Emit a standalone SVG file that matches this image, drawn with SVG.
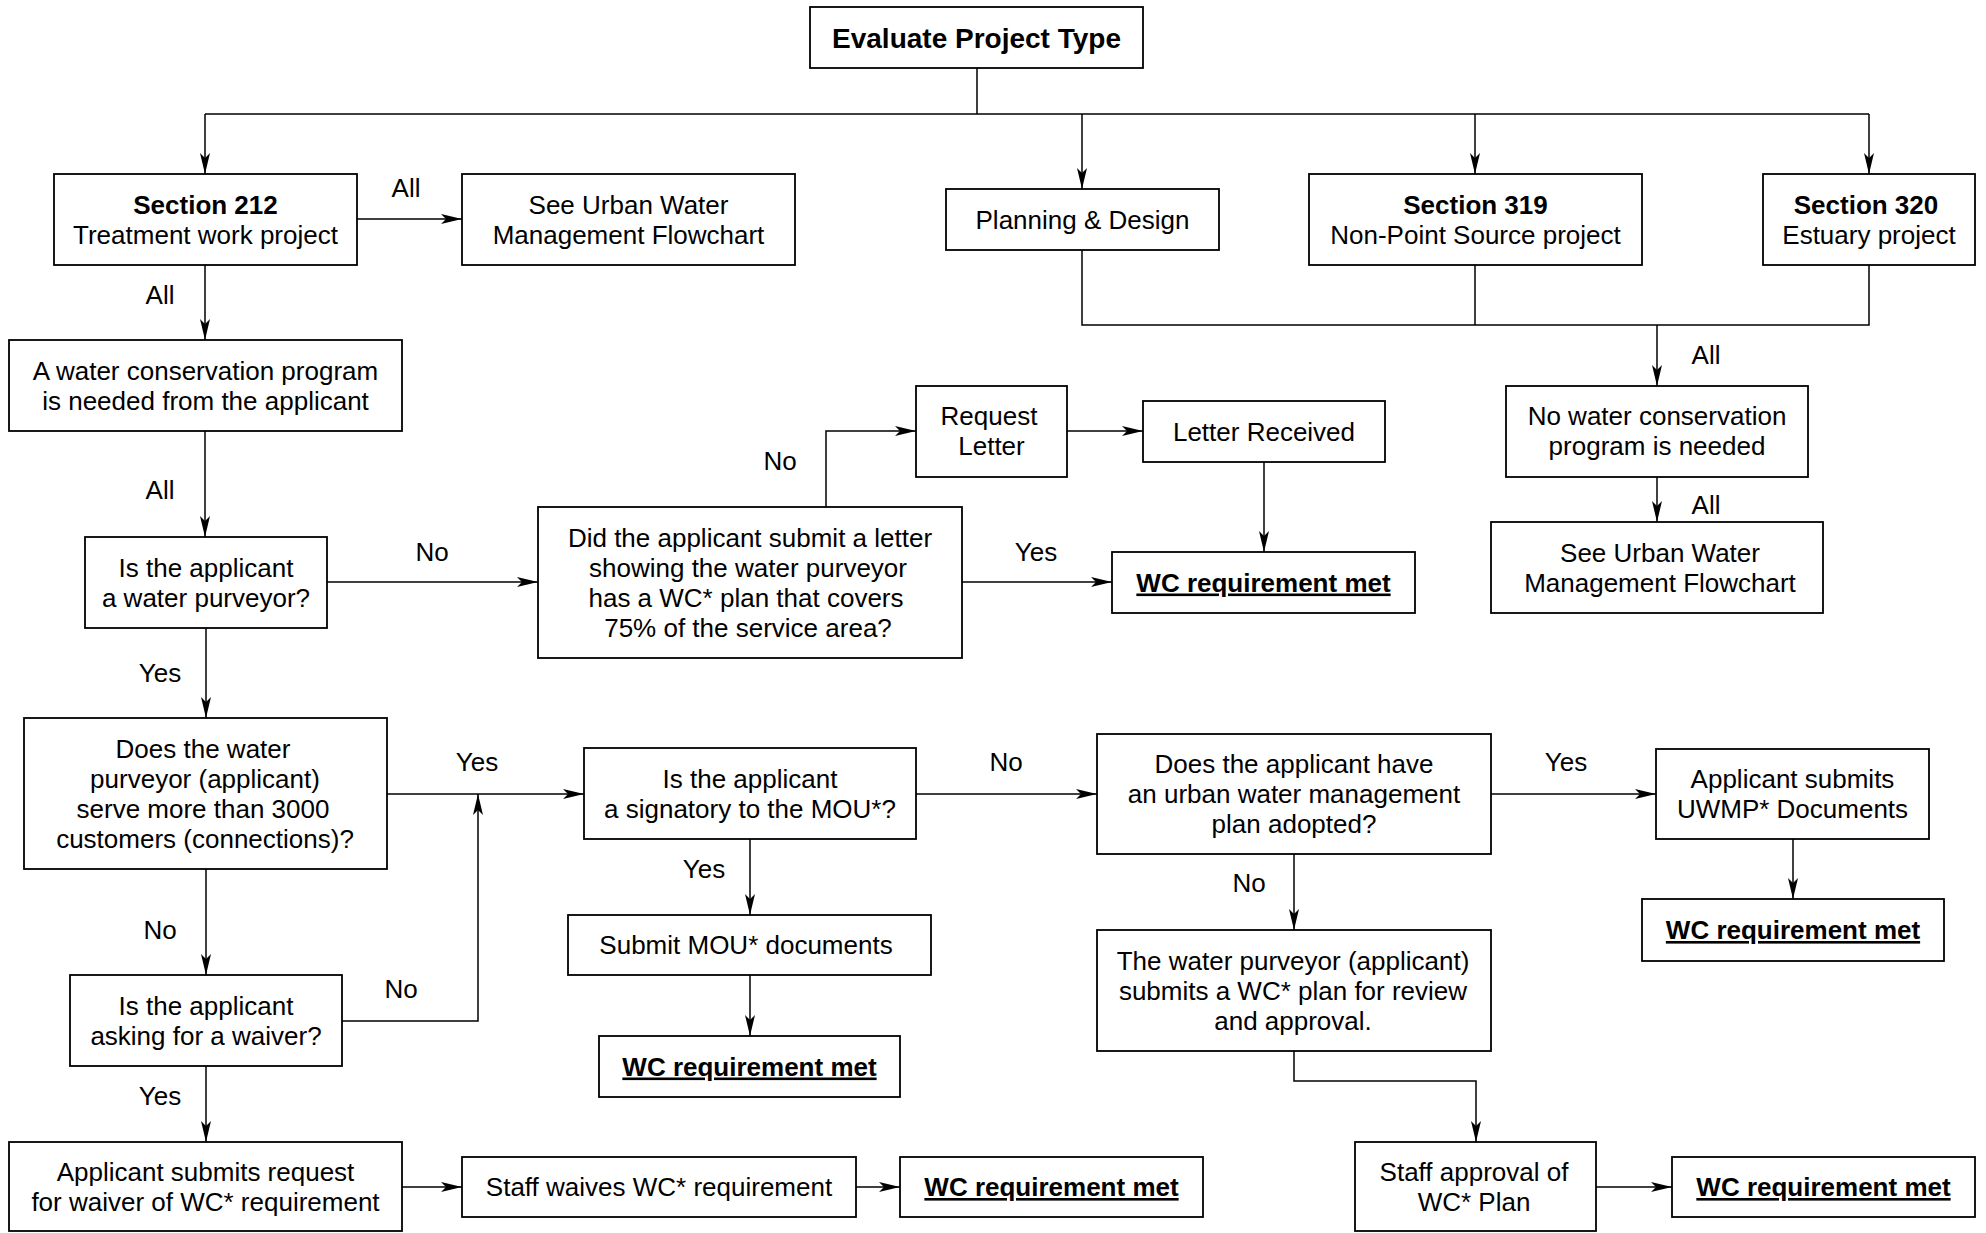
<svg xmlns="http://www.w3.org/2000/svg" width="1986" height="1233" viewBox="0 0 1986 1233">
<style>
.box{fill:#fff;stroke:#000;stroke-width:1.8}
.t{font-family:"Liberation Sans",Arial,sans-serif;font-size:26px;text-anchor:middle;fill:#000}
.b{font-weight:bold}
.u{text-decoration:underline}
.conn{fill:none;stroke:#000;stroke-width:1.5}
.arr{marker-end:url(#ah)}
</style>
<defs>
<marker id="ah" markerUnits="userSpaceOnUse" markerWidth="24" markerHeight="14" viewBox="-22 -7 24 14" refX="0" refY="0" orient="auto">
<path d="M0,0 L-21,-5 L-16,0 L-21,5 Z" fill="#000"/>
</marker>
</defs>
<rect width="1986" height="1233" fill="#fff"/>

<g id="connectors">
<path class="conn" d="M977,68 V114 M205,114 H1869"/>
<path class="conn arr" d="M205,114 V174"/>
<path class="conn arr" d="M1082,114 V189"/>
<path class="conn arr" d="M1475,114 V174"/>
<path class="conn arr" d="M1869,114 V174"/>
<path class="conn arr" d="M357,219 H462"/>
<path class="conn arr" d="M205,265 V340"/>
<path class="conn arr" d="M205,431 V537"/>
<path class="conn arr" d="M327,582 H538"/>
<path class="conn arr" d="M962,582 H1112"/>
<path class="conn arr" d="M826,507 V431 H916"/>
<path class="conn arr" d="M1067,431 H1143"/>
<path class="conn arr" d="M1264,462 V552"/>
<path class="conn" d="M1082,250 V325 H1869 V265 M1475,265 V325"/>
<path class="conn arr" d="M1657,325 V386"/>
<path class="conn arr" d="M1657,477 V522"/>
<path class="conn arr" d="M206,628 V718"/>
<path class="conn arr" d="M387,794 H584"/>
<path class="conn arr" d="M342,1021 H478 V794"/>
<path class="conn arr" d="M206,869 V975"/>
<path class="conn arr" d="M206,1066 V1142"/>
<path class="conn arr" d="M402,1187 H462"/>
<path class="conn arr" d="M856,1187 H900"/>
<path class="conn arr" d="M916,794 H1097"/>
<path class="conn arr" d="M750,839 V915"/>
<path class="conn arr" d="M750,975 V1036"/>
<path class="conn arr" d="M1491,794 H1656"/>
<path class="conn arr" d="M1294,854 V930"/>
<path class="conn arr" d="M1793,839 V899"/>
<path class="conn arr" d="M1294,1051 V1081 H1476 V1142"/>
<path class="conn arr" d="M1596,1187 H1672"/>
<text class="t" x="406" y="197">All</text>
<text class="t" x="160" y="304">All</text>
<text class="t" x="160" y="499">All</text>
<text class="t" x="432" y="561">No</text>
<text class="t" x="1036" y="561">Yes</text>
<text class="t" x="780" y="470">No</text>
<text class="t" x="1706" y="364">All</text>
<text class="t" x="1706" y="514">All</text>
<text class="t" x="160" y="682">Yes</text>
<text class="t" x="477" y="771">Yes</text>
<text class="t" x="401" y="998">No</text>
<text class="t" x="160" y="939">No</text>
<text class="t" x="160" y="1105">Yes</text>
<text class="t" x="1006" y="771">No</text>
<text class="t" x="704" y="878">Yes</text>
<text class="t" x="1566" y="771">Yes</text>
<text class="t" x="1249" y="892">No</text>
</g>

<g id="evaluate">
<rect class="box" x="810" y="7" width="333" height="61"/>
<text class="t b" x="976.5" y="48" style="font-size:28px">Evaluate Project Type</text>
</g>
<g id="sec212">
<rect class="box" x="54" y="174" width="303" height="91"/>
<text class="t" x="205.5"><tspan class="b" x="205.5" y="214">Section 212</tspan><tspan x="205.5" y="244">Treatment work project</tspan></text>
</g>
<g id="urban1">
<rect class="box" x="462" y="174" width="333" height="91"/>
<text class="t"><tspan x="628.5" y="214">See Urban Water</tspan><tspan x="628.5" y="244">Management Flowchart</tspan></text>
</g>
<g id="planning">
<rect class="box" x="946" y="189" width="273" height="61"/>
<text class="t" x="1082.5" y="228.5">Planning &amp; Design</text>
</g>
<g id="sec319">
<rect class="box" x="1309" y="174" width="333" height="91"/>
<text class="t"><tspan class="b" x="1475.5" y="214">Section 319</tspan><tspan x="1475.5" y="244">Non-Point Source project</tspan></text>
</g>
<g id="sec320">
<rect class="box" x="1763" y="174" width="212" height="91"/>
<text class="t"><tspan class="b" x="1866" y="214">Section 320</tspan><tspan x="1869" y="244">Estuary project</tspan></text>
</g>
<g id="wcneeded">
<rect class="box" x="9" y="340" width="393" height="91"/>
<text class="t"><tspan x="205.5" y="380">A water conservation program</tspan><tspan x="205.5" y="410">is needed from the applicant</tspan></text>
</g>
<g id="request">
<rect class="box" x="916" y="386" width="151" height="91"/>
<text class="t"><tspan x="989" y="425">Request</tspan><tspan x="991.5" y="455">Letter</tspan></text>
</g>
<g id="received">
<rect class="box" x="1143" y="401" width="242" height="61"/>
<text class="t" x="1264" y="440.5">Letter Received</text>
</g>
<g id="nowc">
<rect class="box" x="1506" y="386" width="302" height="91"/>
<text class="t"><tspan x="1657" y="425">No water conservation</tspan><tspan x="1657" y="455">program is needed</tspan></text>
</g>
<g id="purveyor">
<rect class="box" x="85" y="537" width="242" height="91"/>
<text class="t"><tspan x="206" y="576.5">Is the applicant</tspan><tspan x="206" y="606.5">a water purveyor?</tspan></text>
</g>
<g id="letter">
<rect class="box" x="538" y="507" width="424" height="151"/>
<text class="t"><tspan x="750" y="546.5">Did the applicant submit a letter</tspan><tspan x="748" y="576.5">showing the water purveyor</tspan><tspan x="746" y="606.5">has a WC* plan that covers</tspan><tspan x="748" y="636.5">75% of the service area?</tspan></text>
</g>
<g id="met1">
<rect class="box" x="1112" y="552" width="303" height="61"/>
<text class="t b u" x="1263.5" y="591.5">WC requirement met</text>
</g>
<g id="urban2">
<rect class="box" x="1491" y="522" width="332" height="91"/>
<text class="t"><tspan x="1660" y="561.5">See Urban Water</tspan><tspan x="1660" y="591.5">Management Flowchart</tspan></text>
</g>
<g id="serve">
<rect class="box" x="24" y="718" width="363" height="151"/>
<text class="t"><tspan x="203" y="757.5">Does the water</tspan><tspan x="205" y="787.5">purveyor (applicant)</tspan><tspan x="203" y="817.5">serve more than 3000</tspan><tspan x="205" y="847.5">customers (connections)?</tspan></text>
</g>
<g id="mou">
<rect class="box" x="584" y="748" width="332" height="91"/>
<text class="t"><tspan x="750" y="787.5">Is the applicant</tspan><tspan x="750" y="817.5">a signatory to the MOU*?</tspan></text>
</g>
<g id="uwmpq">
<rect class="box" x="1097" y="734" width="394" height="120"/>
<text class="t"><tspan x="1294" y="773">Does the applicant have</tspan><tspan x="1294" y="803">an urban water management</tspan><tspan x="1294" y="833">plan adopted?</tspan></text>
</g>
<g id="uwmpdocs">
<rect class="box" x="1656" y="749" width="273" height="90"/>
<text class="t"><tspan x="1792.5" y="788">Applicant submits</tspan><tspan x="1792.5" y="818">UWMP* Documents</tspan></text>
</g>
<g id="moudocs">
<rect class="box" x="568" y="915" width="363" height="60"/>
<text class="t" x="746" y="954">Submit MOU* documents</text>
</g>
<g id="wcplan">
<rect class="box" x="1097" y="930" width="394" height="121"/>
<text class="t"><tspan x="1293" y="969.5">The water purveyor (applicant)</tspan><tspan x="1293" y="999.5">submits a WC* plan for review</tspan><tspan x="1293" y="1029.5">and approval.</tspan></text>
</g>
<g id="met2">
<rect class="box" x="1642" y="899" width="302" height="62"/>
<text class="t b u" x="1793" y="939">WC requirement met</text>
</g>
<g id="waiverq">
<rect class="box" x="70" y="975" width="272" height="91"/>
<text class="t"><tspan x="206" y="1014.5">Is the applicant</tspan><tspan x="206" y="1044.5">asking for a waiver?</tspan></text>
</g>
<g id="met3">
<rect class="box" x="599" y="1036" width="301" height="61"/>
<text class="t b u" x="749.5" y="1075.5">WC requirement met</text>
</g>
<g id="waiverreq">
<rect class="box" x="9" y="1142" width="393" height="89"/>
<text class="t"><tspan x="205.5" y="1181">Applicant submits request</tspan><tspan x="205.5" y="1211">for waiver of WC* requirement</tspan></text>
</g>
<g id="waives">
<rect class="box" x="462" y="1157" width="394" height="60"/>
<text class="t" x="659" y="1196">Staff waives WC* requirement</text>
</g>
<g id="met4">
<rect class="box" x="900" y="1157" width="303" height="60"/>
<text class="t b u" x="1051.5" y="1196">WC requirement met</text>
</g>
<g id="approval">
<rect class="box" x="1355" y="1142" width="241" height="89"/>
<text class="t"><tspan x="1474" y="1181">Staff approval of</tspan><tspan x="1474" y="1211">WC* Plan</tspan></text>
</g>
<g id="met5">
<rect class="box" x="1672" y="1157" width="303" height="60"/>
<text class="t b u" x="1823.5" y="1196">WC requirement met</text>
</g>
</svg>
